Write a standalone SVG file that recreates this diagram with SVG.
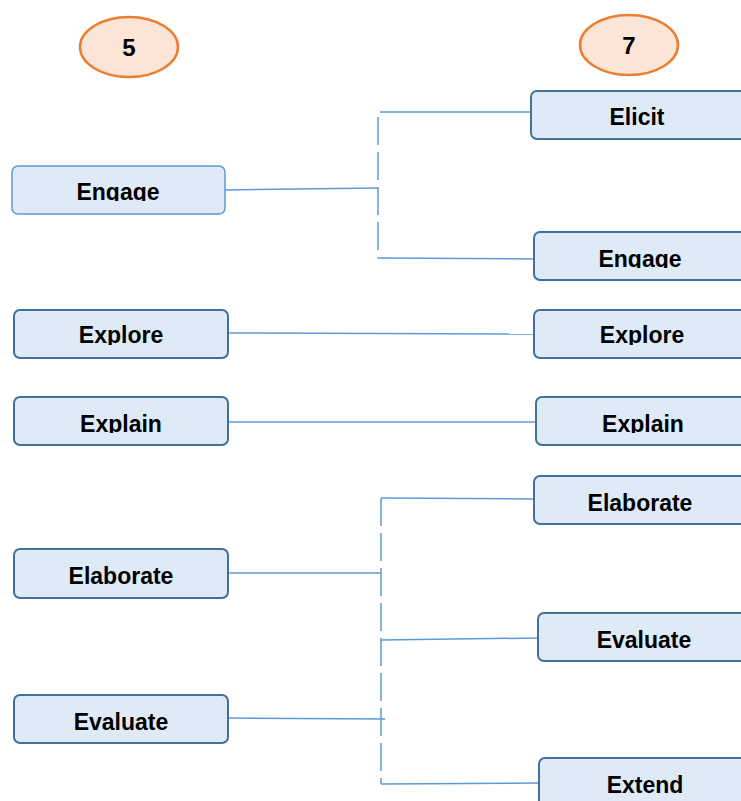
<svg xmlns="http://www.w3.org/2000/svg" width="741" height="801" viewBox="0 0 741 801">
<style>
.box{fill:#DEEAF6;stroke:#41719C;stroke-width:2}
.boxl{fill:#DEEAF6;stroke:#5B9BD5;stroke-width:1.5}
.lbl{font-family:"Liberation Sans",Arial,sans-serif;font-weight:bold;font-size:23px;fill:#000;text-anchor:middle}
.num{font-family:"Liberation Sans",Arial,sans-serif;font-weight:bold;font-size:24px;fill:#000;text-anchor:middle}
.circ{fill:#FBE5D6;stroke:#ED7D31;stroke-width:2.5}
.ln{stroke:#5B9BD5;stroke-width:1.5;fill:none}
.dash{stroke:#5B9BD5;stroke-width:1.5;fill:none;stroke-dasharray:28 7}
</style>
<defs>
<clipPath id="c1"><rect x="0" y="0" width="741" height="201"/></clipPath>
<clipPath id="c2"><rect x="0" y="0" width="741" height="268"/></clipPath>
<clipPath id="c3"><rect x="0" y="0" width="741" height="345"/></clipPath>
<clipPath id="c4"><rect x="0" y="0" width="741" height="433"/></clipPath>
</defs>
<rect width="741" height="801" fill="#fff"/>
<g id="connectors">
<path class="ln" d="M225 190 L378 188"/>
<path class="dash" d="M378 117 L378 258"/>
<path class="ln" d="M380 112 L531 112"/>
<path class="ln" d="M378 258 L540 259"/>
<path class="ln" d="M228 333 L534 334"/>
<path class="ln" d="M228 422 L536 422"/>
<path class="ln" d="M381 498 L534 499"/>
<path class="dash" d="M381 498 L381 784"/>
<path class="ln" d="M228 573 L381 573"/>
<path class="ln" d="M381 640 L538 638"/>
<path class="ln" d="M228 718 L385 719"/>
<path class="ln" d="M381 784 L539 783"/>
</g>
<g id="n5"><ellipse class="circ" cx="129" cy="47" rx="49" ry="30"/><text class="num" x="129" y="56">5</text></g>
<g id="n7"><ellipse class="circ" cx="629" cy="45" rx="49" ry="30"/><text class="num" x="629" y="54">7</text></g>
<g id="l-engage"><rect class="boxl" x="12" y="166" width="213" height="48" rx="6"/><text class="lbl" x="118" y="199.5" clip-path="url(#c1)">Engage</text></g>
<g id="l-explore"><rect class="box" x="14" y="310" width="214" height="48" rx="6"/><text class="lbl" x="121" y="343" clip-path="url(#c3)">Explore</text></g>
<g id="l-explain"><rect class="box" x="14" y="397" width="214" height="48" rx="6"/><text class="lbl" x="121" y="431.5" clip-path="url(#c4)">Explain</text></g>
<g id="l-elaborate"><rect class="box" x="14" y="549" width="214" height="49" rx="6"/><text class="lbl" x="121" y="584">Elaborate</text></g>
<g id="l-evaluate"><rect class="box" x="14" y="695" width="214" height="48" rx="6"/><text class="lbl" x="121" y="730">Evaluate</text></g>
<g id="r-elicit"><rect class="box" x="531" y="91" width="215" height="48" rx="6"/><text class="lbl" x="637" y="125">Elicit</text></g>
<g id="r-engage"><rect class="box" x="534" y="232" width="212" height="48" rx="6"/><text class="lbl" x="640" y="267" clip-path="url(#c2)">Engage</text></g>
<g id="r-explore"><rect class="box" x="534" y="310" width="212" height="48" rx="6"/><text class="lbl" x="642" y="343" clip-path="url(#c3)">Explore</text></g>
<g id="r-explain"><rect class="box" x="536" y="397" width="210" height="48" rx="6"/><text class="lbl" x="643" y="431.5" clip-path="url(#c4)">Explain</text></g>
<g id="r-elaborate"><rect class="box" x="534" y="476" width="212" height="48" rx="6"/><text class="lbl" x="640" y="510.5">Elaborate</text></g>
<g id="r-evaluate"><rect class="box" x="538" y="613" width="208" height="48" rx="6"/><text class="lbl" x="644" y="647.5">Evaluate</text></g>
<g id="r-extend"><rect class="box" x="539" y="758" width="207" height="50" rx="6"/><text class="lbl" x="645" y="793">Extend</text></g>
</svg>
